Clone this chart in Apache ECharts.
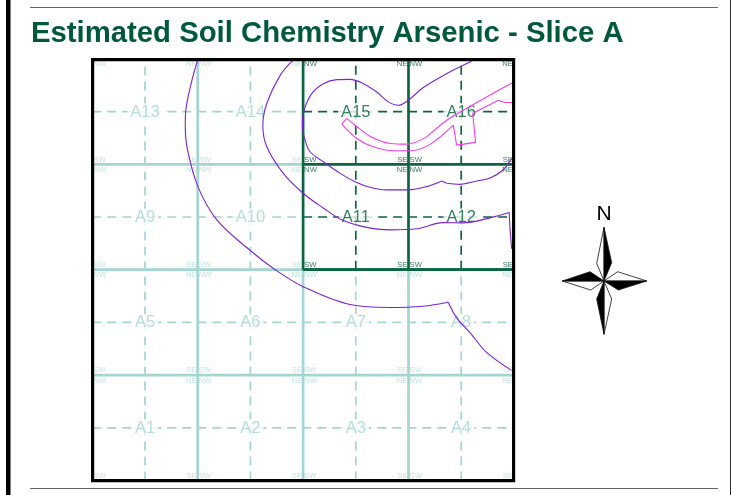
<!DOCTYPE html>
<html><head><meta charset="utf-8">
<style>html,body{margin:0;padding:0;background:#fff}#c{width:732px;height:495px}</style>
<script src="https://cdn.jsdelivr.net/npm/echarts@6/dist/echarts.min.js"></script>
</head><body><div id="c"></div>
<script>
const titleText = 'Estimated Soil Chemistry Arsenic - Slice A';
const northText = 'N';
const cellNames = [
  ['A1','A2','A3','A4'],
  ['A5','A6','A7','A8'],
  ['A9','A10','A11','A12'],
  ['A13','A14','A15','A16']
];
const darkCols = [2,3];
const darkRows = [2,3];
const majorLines = [100,200,300];
const minorLines = [50,150,250,350];
const outerContour = [[100.2,399.5],[94.5,379.7],[89.1,354.4],[88.2,338.7],[89.8,316.6],[100.2,278.8],[118.2,247.3],[148.2,219.6],[173.5,200],[200,183.9],[244.5,166.9],[282.5,164.1],[313.7,165.3],[337.7,169.1],[345.7,154.3],[358.3,140.4],[374.1,121.5],[397.8,104.5]];
const middleContour = [[190.2,398.6],[178.2,384.4],[165.6,357.9],[161.8,337.1],[165.6,316.6],[181,291.7],[200.3,272.3],[219,258.6],[236.7,247.3],[256.9,240.9],[282.5,237.8],[307.8,238.8],[332.7,244.7],[351.7,244.4],[377.3,249.2],[395.5,254.2],[396.2,240.9],[397.8,219.9]];
const innerContour = [[397.8,305.6],[389.6,294.6],[377.3,287],[364.7,284.2],[348.8,281],[336.2,282],[331.5,284.2],[317.3,278.8],[299.8,275.7],[279.3,275.7],[263.5,278.2],[249.3,283.5],[235.1,291.4],[219.2,302.4],[206.6,311.9],[201.9,322.9],[199.3,337.1],[200.9,351.3],[208.2,367.1],[219.2,376.5],[232,380.3],[244.5,380.6],[257.2,376.5],[269.9,368.6],[280.9,359.2],[290.3,356],[299.8,360.8],[314,372.8],[336.2,386],[359.9,397.7]];
const peakContour = [[400,378],[374.1,363.9],[352,351.3],[336.2,341.8],[317.3,326],[298.3,319.1],[282.5,319.8],[263.5,326.7],[249.3,337.1],[241.4,343.5],[236.7,338.1],[250.9,324.5],[266.6,316.6],[285.6,312.8],[301.4,312.8],[320.4,318.9],[342.5,337.1],[345.7,318.2],[363.7,320.8],[360.9,348.2],[385.1,360.8],[391.5,358.6],[400,358.6]];
// indices where a contour turns a sharp corner
const outerBreaks = [13];
const middleBreaks = [15,16];
const innerBreaks = [5,6];
const peakBreaks = [4,9,10,16,17,18,19,20,21];

const LIGHT='#a3d5d2', DARK='#0a6640', DARKTXT='#00603a', LIGHTTXT='#b0dcd9', PURPLE='#7a22d6', MAGENTA='#f53cf0';
const SANS='"Liberation Sans",Arial,sans-serif';
function seg(pts,color,width,dash,z,smooth){
  return {type:'line',data:pts,symbol:'none',silent:true,z:z,animation:false,smooth:smooth||false,
    lineStyle:{color:color,width:width,type:dash?[9,6]:'solid',cap:'butt'}};
}
const series=[];
function gridLines(list,dash,width){
  list.forEach(p=>{
    const inBlock = p>=200;
    series.push(seg([[p,0],[p,inBlock?200:400]],LIGHT,width,dash,1));
    series.push(seg([[0,p],[inBlock?200:400,p]],LIGHT,width,dash,1));
    if(inBlock){
      series.push(seg([[p,200],[p,400]],DARK,width,dash,2));
      series.push(seg([[200,p],[400,p]],DARK,width,dash,2));
    }
  });
}
gridLines(minorLines,true,1.7);
gridLines(majorLines,false,2.7);
series.push(seg([[200,200],[400,200]],DARK,2.7,false,2));

const cellData=[],cornerData=[];
const corners=[
  {n:'SW',dx:0,dy:0,align:'left',va:'bottom',off:[1,-1.4]},
  {n:'SE',dx:100,dy:0,align:'right',va:'bottom',off:[-1,-1.4]},
  {n:'NW',dx:0,dy:100,align:'left',va:'top',off:[1,1.8]},
  {n:'NE',dx:100,dy:100,align:'right',va:'top',off:[-1,1.8]}
];
cellNames.forEach((row,r)=>row.forEach((name,c)=>{
  const dark=darkCols.includes(c)&&darkRows.includes(r);
  cellData.push({value:[c*100+50,r*100+50],name:name,label:{color:dark?DARKTXT:LIGHT}});
  corners.forEach(k=>cornerData.push({value:[c*100+k.dx,r*100+k.dy],name:k.n,
    label:{color:dark?DARKTXT:LIGHTTXT,align:k.align,verticalAlign:k.va,offset:k.off}}));
}));
series.push({type:'scatter',data:cornerData,symbolSize:1,itemStyle:{color:'transparent'},silent:true,z:3,animation:false,clip:false,
  label:{show:true,position:'inside',formatter:'{b}',fontFamily:SANS,fontSize:7.7,lineHeight:7}});
series.push({type:'scatter',data:cellData,symbolSize:1,itemStyle:{color:'transparent'},silent:true,z:4,animation:false,
  label:{show:true,position:'inside',formatter:'{b}',fontFamily:SANS,fontSize:16.5,backgroundColor:'#fff',padding:[1,3,0,3],offset:[0,0.5]}});
// Draw a contour as runs split at its sharp corners, smoothing the curved runs only
function contour(pts,breaks,color,width,z){
  const idx=[0,...breaks,pts.length-1];
  for(let i=0;i<idx.length-1;i++){
    const run=pts.slice(idx[i],idx[i+1]+1);
    series.push(seg(run,color,width,false,z,run.length>2?0.35:false));
  }
}
contour(outerContour,outerBreaks,PURPLE,1.1,5);
contour(middleContour,middleBreaks,PURPLE,1.1,5);
contour(innerContour,innerBreaks,PURPLE,1.1,5);
contour(peakContour,peakBreaks,MAGENTA,1.1,6);

function star(points,fill){
  return {type:'polygon',z:50,silent:true,shape:{points:points},style:{fill:fill,stroke:'#111',lineWidth:0.8}};
}
const cx=604,cy=281;
const elements=[
  {type:'rect',z:60,silent:true,shape:{x:6,y:-2,width:4.5,height:500},style:{fill:'#000'}},
  {type:'line',z:60,silent:true,shape:{x1:730.5,y1:0,x2:730.5,y2:495},style:{stroke:'#333',lineWidth:1}},
  {type:'line',z:60,silent:true,shape:{x1:30,y1:7.5,x2:718,y2:7.5},style:{stroke:'#666',lineWidth:1}},
  {type:'line',z:60,silent:true,shape:{x1:30,y1:488.5,x2:718,y2:488.5},style:{stroke:'#666',lineWidth:1}},
  {type:'rect',z:60,silent:true,shape:{x:92.6,y:59.6,width:421,height:421},style:{fill:'none',stroke:'#000',lineWidth:3.2}},
  star([[cx,cy],[596.7,263.3],[cx,227.3]],'#fff'),
  star([[cx,cy],[611.7,262.7],[cx,227.3]],'#000'),
  star([[cx,cy],[617.7,271.7],[646.7,cy]],'#fff'),
  star([[cx,cy],[618.3,290],[646.7,cy]],'#000'),
  star([[cx,cy],[611.7,299],[cx,334.3]],'#fff'),
  star([[cx,cy],[596.7,299],[cx,334.3]],'#000'),
  star([[cx,cy],[590.7,290],[562.3,cy]],'#fff'),
  star([[cx,cy],[590,271.7],[562.3,cy]],'#000'),
  {type:'text',z:60,silent:true,x:cx,y:204,style:{text:northText,fill:'#000',font:'21px '+SANS,textAlign:'center',textVerticalAlign:'top'}}
];

const chart=echarts.init(document.getElementById('c'),null,{renderer:'canvas'});
chart.setOption({
  animation:false,backgroundColor:'#fff',
  title:{text:titleText,left:26,top:14,textStyle:{fontFamily:SANS,fontWeight:'bold',fontSize:29.3,color:'#00593b'}},
  grid:{left:92.3,top:58.9,width:421.6,height:421.6,containLabel:false},
  xAxis:{type:'value',min:0,max:400,show:false},
  yAxis:{type:'value',min:0,max:400,show:false},
  tooltip:{show:false},
  series:series,
  graphic:{elements:elements}
});
</script></body></html>
